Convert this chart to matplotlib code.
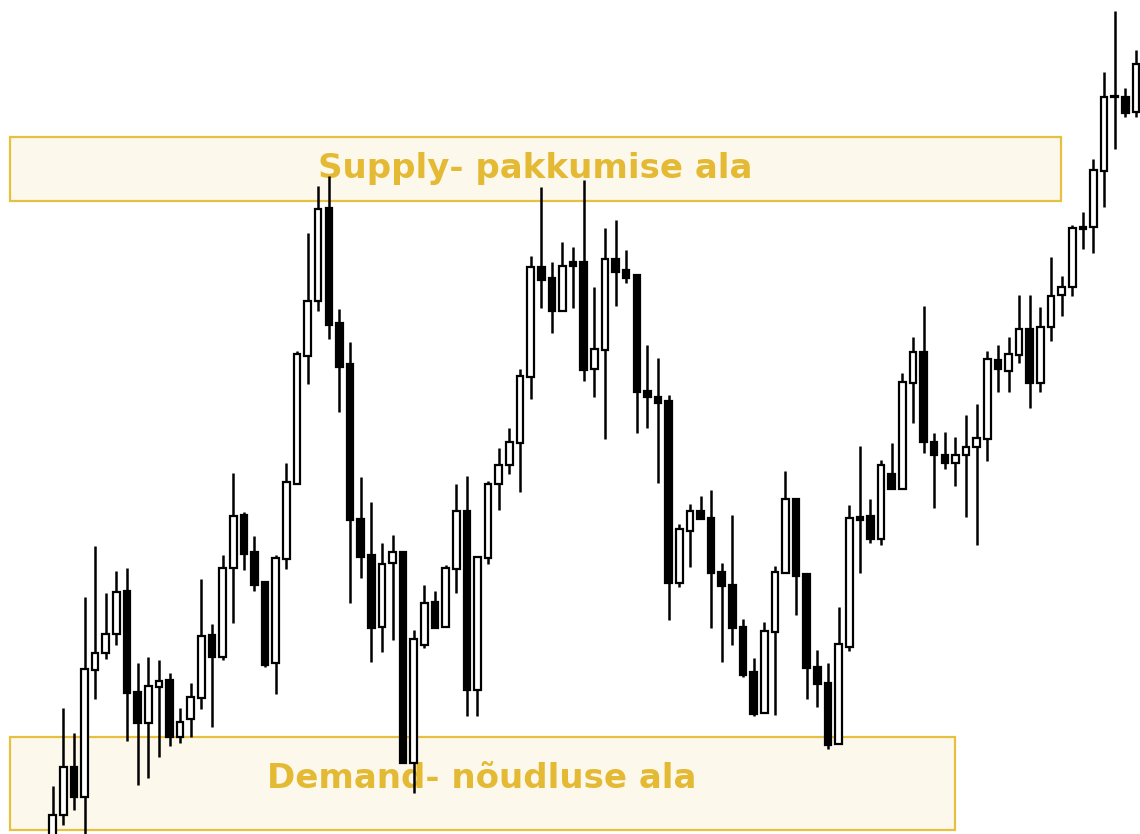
import numpy as np
from matplotlib import pyplot as plt
from matplotlib.patches import Rectangle

# OHLC (arbitrary price units, higher = higher on chart)
opens = [8, 35, 83, 53, 180, 197, 216, 259, 158, 127,
         163, 170, 113, 131, 152, 215, 193, 282, 335, 298,
         268, 187, 291, 366, 494, 549, 642, 527, 486, 331,
         295, 223, 287, 298, 87, 205, 248, 223, 281, 339,
         160, 292, 366, 385, 407, 473, 583, 572, 539, 588,
         588, 481, 500, 591, 580, 575, 459, 453, 449, 267,
         319, 339, 332, 278, 265, 223, 178, 137, 218, 277,
         351, 276, 183, 167, 106, 203, 333, 334, 311, 376,
         361, 467, 498, 408, 395, 387, 395, 403, 411, 490,
         479, 495, 521, 467, 523, 555, 563, 623, 623, 679,
         753, 753, 738]
highs = [64, 142, 117, 253, 304, 257, 279, 282, 187, 193,
         190, 177, 142, 167, 271, 226, 295, 377, 338, 314,
         268, 295, 387, 499, 617, 664, 674, 541, 508, 373,
         348, 307, 315, 298, 220, 265, 259, 285, 366, 374,
         293, 369, 402, 422, 481, 594, 663, 588, 608, 603,
         670, 563, 622, 630, 600, 575, 505, 492, 455, 326,
         346, 354, 360, 287, 335, 231, 192, 228, 284, 379,
         351, 276, 200, 187, 243, 345, 404, 351, 390, 407,
         477, 513, 544, 417, 418, 413, 435, 446, 499, 505,
         513, 555, 555, 543, 593, 574, 625, 638, 691, 778,
         839, 762, 800]
lows = [0, 25, 40, 5, 151, 191, 205, 109, 65, 72,
        93, 104, 107, 113, 141, 123, 190, 227, 280, 259,
        183, 156, 281, 366, 466, 539, 511, 438, 247, 272,
        188, 198, 210, 87, 57, 202, 222, 223, 257, 134,
        134, 286, 340, 376, 358, 451, 542, 517, 539, 542,
        469, 453, 411, 544, 567, 417, 422, 367, 230, 263,
        283, 331, 222, 188, 205, 173, 134, 137, 135, 277,
        235, 151, 143, 101, 106, 199, 277, 307, 305, 361,
        361, 427, 397, 342, 381, 364, 333, 305, 389, 458,
        458, 487, 442, 458, 509, 534, 554, 601, 597, 643,
        701, 733, 733]
closes = [35, 83, 53, 181, 197, 216, 258, 157, 127, 164,
          169, 113, 128, 153, 214, 193, 282, 334, 296, 265,
          185, 292, 368, 496, 549, 641, 525, 483, 330, 293,
          222, 286, 298, 87, 211, 247, 222, 282, 339, 160,
          293, 366, 385, 408, 474, 583, 570, 539, 584, 584,
          480, 501, 591, 578, 572, 458, 453, 447, 267, 321,
          339, 331, 277, 264, 222, 175, 136, 219, 278, 351,
          274, 182, 166, 105, 206, 332, 330, 311, 385, 361,
          468, 498, 408, 395, 387, 395, 403, 412, 491, 481,
          496, 521, 467, 523, 554, 563, 622, 621, 680, 753,
          753, 737, 786]

supply_label = "Supply- pakkumise ala"
demand_label = "Demand- nõudluse ala"
supply_zone = (-4.0, 94.9, 649, 713)   # x0, x1, y0, y1
demand_zone = (-4.0, 85.0, 20, 113)

zone_face = "#fdf8ec"
zone_edge = "#e8c040"
text_colour = "#e4b934"


def main():
    o = np.array(opens, dtype=float)
    h = np.array(highs, dtype=float)
    l = np.array(lows, dtype=float)
    c = np.array(closes, dtype=float)
    x = np.arange(len(o))

    fig = plt.figure(figsize=(11.4, 8.34), dpi=100)
    ax = fig.add_axes([0, 0, 1, 1])
    ax.set_xlim(-4.96, 102.38)
    ax.set_ylim(16, 850)
    ax.axis("off")

    # zones
    for (x0, x1, y0, y1) in (supply_zone, demand_zone):
        ax.add_patch(Rectangle((x0, y0), x1 - x0, y1 - y0,
                               facecolor=zone_face, edgecolor=zone_edge,
                               linewidth=1.6, zorder=1))
    ax.text(45.4, 682, supply_label, ha="center", va="center",
            fontsize=24.5, fontweight="bold", color=text_colour, zorder=2)
    ax.text(40.4, 72, demand_label, ha="center", va="center",
            fontsize=24.5, fontweight="bold", color=text_colour, zorder=2)

    # candles
    up = c >= o
    bottom = np.minimum(o, c)
    height = np.maximum(np.abs(c - o), 1.5)
    ax.vlines(x, l, h, color="black", linewidth=1.8, zorder=3)
    ax.bar(x[up], height[up], bottom=bottom[up], width=0.62,
           color="white", edgecolor="black", linewidth=1.6, zorder=4)
    ax.bar(x[~up], height[~up], bottom=bottom[~up], width=0.62,
           color="black", edgecolor="black", linewidth=1.6, zorder=4)

    fig.savefig("out.png", dpi=100)


if __name__ == "__main__":
    main()
